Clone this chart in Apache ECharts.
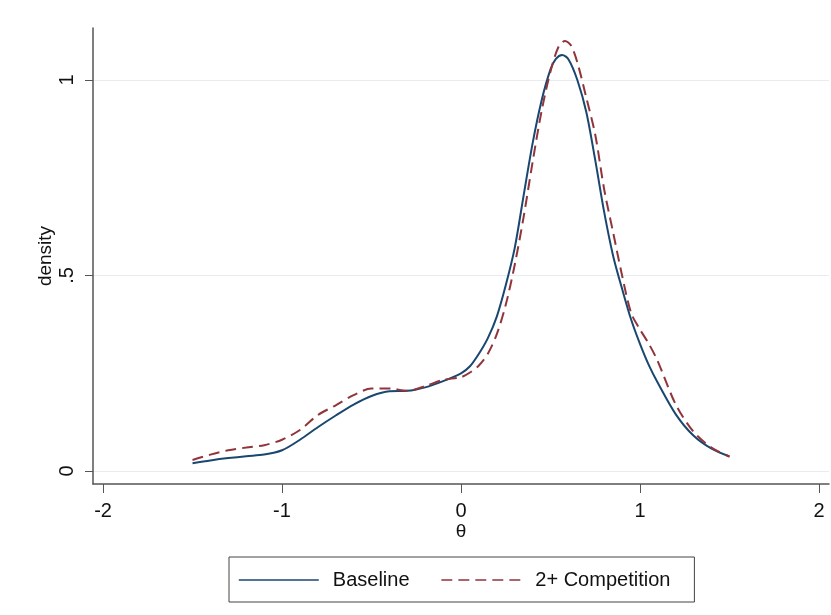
<!DOCTYPE html>
<html>
<head>
<meta charset="utf-8">
<script src="https://cdn.jsdelivr.net/npm/echarts@6/dist/echarts.min.js"></script>
<style>html,body{margin:0;padding:0;background:#fff}#c{width:831px;height:615px}</style>
</head>
<body>
<div id="c"></div>
<script>
var seriesNames = ['Baseline', '2+ Competition'];
var xTicks = [-2, -1, 0, 1, 2];
var yTicks = [0, 0.5, 1];

var baselineX = [-1.5,-1.4,-1.3,-1.2,-1.1,-1.0,-0.9,-0.8,-0.7,-0.6,-0.5,-0.4,-0.3,-0.2,-0.1,0.0,0.05,0.1,0.15,0.2,0.25,0.3,0.35,0.4,0.45,0.5,0.53,0.565,0.6,0.65,0.7,0.75,0.8,0.85,0.9,0.95,1.0,1.05,1.1,1.2,1.3,1.4,1.5];
var baselineY = [0.020,0.027,0.033,0.038,0.042,0.053,0.080,0.112,0.142,0.170,0.192,0.204,0.205,0.214,0.230,0.250,0.268,0.300,0.340,0.395,0.475,0.570,0.705,0.838,0.947,1.027,1.054,1.064,1.053,1.000,0.918,0.795,0.662,0.550,0.466,0.388,0.325,0.270,0.225,0.145,0.090,0.057,0.037];

var compX = [-1.5,-1.4,-1.3,-1.2,-1.1,-1.0,-0.9,-0.8,-0.7,-0.6,-0.5,-0.4,-0.3,-0.2,-0.1,0.0,0.05,0.1,0.15,0.2,0.25,0.3,0.35,0.4,0.45,0.5,0.545,0.581,0.615,0.65,0.7,0.75,0.8,0.85,0.9,0.95,1.0,1.05,1.1,1.2,1.3,1.4,1.5];
var compY = [0.028,0.042,0.053,0.060,0.066,0.080,0.105,0.143,0.168,0.194,0.211,0.211,0.205,0.217,0.233,0.240,0.252,0.270,0.300,0.350,0.425,0.527,0.650,0.790,0.920,1.022,1.085,1.100,1.088,1.045,0.955,0.860,0.720,0.610,0.500,0.405,0.362,0.325,0.280,0.170,0.100,0.060,0.037];

function pairs(xs, ys) { return xs.map(function (x, i) { return [x, ys[i]]; }); }

var chart = echarts.init(document.getElementById('c'), null, {renderer: 'canvas'});
var font = 'Liberation Sans, Arial, sans-serif';
chart.setOption({
  animation: false,
  backgroundColor: '#fff',
  grid: {left: 93, right: 2, top: 28, bottom: 131},
  xAxis: {
    type: 'value', min: -2.056, max: 2.056,
    name: 'θ', nameLocation: 'middle', nameGap: 38, nameMoveOverlap: false,
    nameTextStyle: {color: '#111', fontSize: 19, fontFamily: font},
    axisLine: {show: true, onZero: false, lineStyle: {color: '#555', width: 1.5}},
    axisTick: {show: true, length: 9, customValues: xTicks, lineStyle: {color: '#555'}},
    axisLabel: {customValues: xTicks, color: '#111', fontSize: 20, fontFamily: font, margin: 17},
    splitLine: {show: false}
  },
  yAxis: {
    type: 'value', min: -0.0332, max: 1.133,
    name: 'density', nameLocation: 'middle', nameGap: 38, nameMoveOverlap: false,
    nameTextStyle: {color: '#111', fontSize: 19, fontFamily: font},
    axisLine: {show: true, onZero: false, lineStyle: {color: '#555', width: 1.5}},
    axisTick: {show: true, length: 8, customValues: yTicks, lineStyle: {color: '#555'}},
    axisLabel: {customValues: yTicks, rotate: 90, color: '#111', fontSize: 20, fontFamily: font, margin: 16,
      formatter: function (v) { return v === 0.5 ? '.5' : String(v); }},
    splitLine: {show: true, lineStyle: {color: '#e8ecef', width: 1}}
  },
  legend: {
    bottom: 13, left: 229,
    data: seriesNames,
    itemWidth: 80, itemHeight: 14, itemGap: 31,
    borderColor: '#444', borderWidth: 1, borderRadius: 0,
    padding: [13, 24, 12, 9],
    itemStyle: {color: 'transparent', borderColor: 'transparent', borderWidth: 0, opacity: 0},
    lineStyle: {width: 1.6},
    textStyle: {color: '#111', fontSize: 20, fontFamily: font, padding: [0, 0, 0, 9]}
  },
  series: [
    {name: seriesNames[0], type: 'line', smooth: 0.3, symbol: 'none',
      data: pairs(baselineX, baselineY),
      lineStyle: {color: '#1a476f', width: 2}, itemStyle: {color: '#1a476f'}},
    {name: seriesNames[1], type: 'line', smooth: 0.3, symbol: 'none',
      data: pairs(compX, compY),
      lineStyle: {color: '#90353b', width: 2, type: [11, 6]}, itemStyle: {color: '#90353b'}}
  ]
});
</script>
</body>
</html>
